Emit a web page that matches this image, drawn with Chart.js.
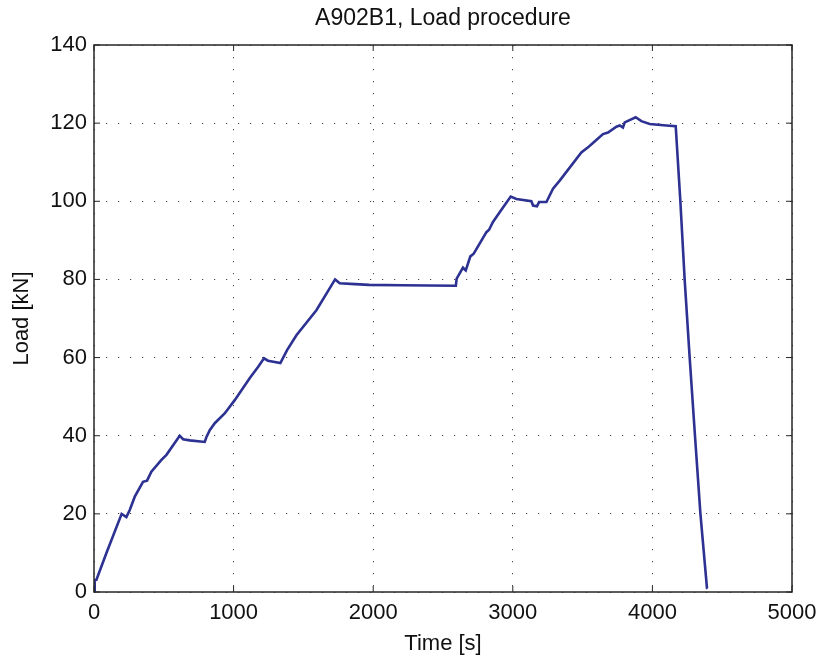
<!DOCTYPE html>
<html>
<head>
<meta charset="utf-8">
<title>A902B1, Load procedure</title>
<script src="https://cdn.jsdelivr.net/npm/chart.js@4.4.0/dist/chart.umd.min.js"></script>
<style>
  html, body { margin: 0; padding: 0; background: #fff; }
  #wrap { width: 822px; height: 662px; }
</style>
</head>
<body>
<div id="wrap"><canvas id="loadChart" width="822" height="662"></canvas></div>
<script>
// time [s] and load [kN]
const timeValues = [
  0, 5, 17, 89, 198, 232, 256, 292, 351, 380, 411, 483, 519, 614, 638, 686,
  793, 805, 829, 865, 936, 1008, 1115, 1175, 1218, 1246, 1335, 1383, 1450,
  1593, 1727, 1760, 1870, 1970, 2200, 2592, 2598, 2643, 2663, 2696, 2720,
  2811, 2830, 2858, 2906, 2985, 3026, 3133, 3145, 3173, 3188, 3241, 3288,
  3336, 3491, 3539, 3574, 3646, 3682, 3742, 3766, 3789, 3802, 3880, 3921,
  3981, 4100, 4167, 4200, 4231, 4267, 4305, 4344, 4391, 4396
];
const loadValues = [
  0, 3, 3.1, 10, 20, 19.2, 21, 24.4, 28.2, 28.5, 30.8, 33.8, 35.1, 40, 39.1, 38.8,
  38.4, 39.6, 41.4, 43.2, 45.7, 49.1, 54.7, 57.6, 59.8, 59.2, 58.6, 61.9, 65.7,
  72.1, 80, 79, 78.8, 78.6, 78.5, 78.4, 80.2, 83, 82.3, 85.9, 86.6,
  92.1, 92.7, 94.7, 97.2, 101.2, 100.6, 100, 98.9, 98.7, 99.8, 99.8, 103.2,
  105.3, 112.5, 113.8, 114.9, 117.2, 117.6, 119.1, 119.4, 118.9, 120.2, 121.5, 120.5,
  119.8, 119.4, 119.2, 100.2, 80, 60, 40, 20, 1.0, 0.9
];
const xTicks = [0, 1000, 2000, 3000, 4000, 5000];
const yTicks = [0, 20, 40, 60, 80, 100, 120, 140];

const points = timeValues.map((t, i) => ({ x: t, y: loadValues[i] }));

const fontFamily = '"Liberation Sans", Arial, Helvetica, sans-serif';

// matlab-style box with inward tick marks
const boxPlugin = {
  id: 'boxPlugin',
  afterDraw(chart) {
    const ctx = chart.ctx;
    const a = chart.chartArea;
    const xs = chart.scales.x;
    const ys = chart.scales.y;
    const len = 6;
    ctx.save();
    ctx.strokeStyle = '#262626';
    ctx.lineWidth = 1.5;
    ctx.strokeRect(a.left, a.top, a.right - a.left, a.bottom - a.top);
    ctx.lineWidth = 1;
    ctx.beginPath();
    xTicks.forEach(v => {
      const px = xs.getPixelForValue(v);
      ctx.moveTo(px, a.bottom); ctx.lineTo(px, a.bottom - len);
      ctx.moveTo(px, a.top); ctx.lineTo(px, a.top + len);
    });
    yTicks.forEach(v => {
      const py = ys.getPixelForValue(v);
      ctx.moveTo(a.left, py); ctx.lineTo(a.left + len, py);
      ctx.moveTo(a.right, py); ctx.lineTo(a.right - len, py);
    });
    ctx.stroke();
    ctx.restore();
  }
};

const ctx = document.getElementById('loadChart').getContext('2d');
new Chart(ctx, {
  type: 'line',
  data: {
    datasets: [{
      label: 'Load',
      data: points,
      borderColor: '#2c3192',
      borderWidth: 2.6,
      pointRadius: 0,
      tension: 0,
      fill: false
    }]
  },
  options: {
    responsive: false,
    animation: false,
    layout: { padding: { left: 0, right: 30, top: 0, bottom: 0 } },
    plugins: {
      legend: { display: false },
      tooltip: { enabled: false },
      title: {
        display: true,
        fullSize: false,
        text: 'A902B1, Load procedure',
        color: '#111',
        font: { family: fontFamily, size: 23, weight: 'normal' },
        padding: { top: 5, bottom: 12.4 }
      }
    },
    scales: {
      x: {
        type: 'linear',
        min: 0,
        max: 5000,
        afterBuildTicks: s => { s.ticks = xTicks.map(v => ({ value: v })); },
        afterFit: s => { s.height = 70; s.paddingLeft = 0; s.paddingRight = 0; },
        ticks: {
          color: '#111',
          padding: 8,
          maxRotation: 0,
          callback: v => String(v),
          font: { family: fontFamily, size: 22 }
        },
        grid: {
          color: '#444',
          lineWidth: 1,
          drawTicks: false
        },
        border: { display: false, dash: [1.2, 10.8] },
        title: {
          display: true,
          text: 'Time [s]',
          color: '#111',
          padding: { top: 0, bottom: 5 },
          font: { family: fontFamily, size: 22 }
        }
      },
      y: {
        type: 'linear',
        min: 0,
        max: 140,
        afterBuildTicks: s => { s.ticks = yTicks.map(v => ({ value: v })); },
        afterFit: s => { s.width = 94; s.paddingTop = 0; s.paddingBottom = 0; },
        ticks: {
          color: '#111',
          padding: 7,
          callback: v => String(v),
          font: { family: fontFamily, size: 22 }
        },
        grid: {
          color: '#444',
          lineWidth: 1,
          drawTicks: false
        },
        border: { display: false, dash: [1.2, 10.8] },
        title: {
          display: true,
          text: 'Load [kN]',
          color: '#111',
          padding: { top: 9, bottom: 0 },
          font: { family: fontFamily, size: 22 }
        }
      }
    }
  },
  plugins: [boxPlugin]
});
</script>
</body>
</html>
